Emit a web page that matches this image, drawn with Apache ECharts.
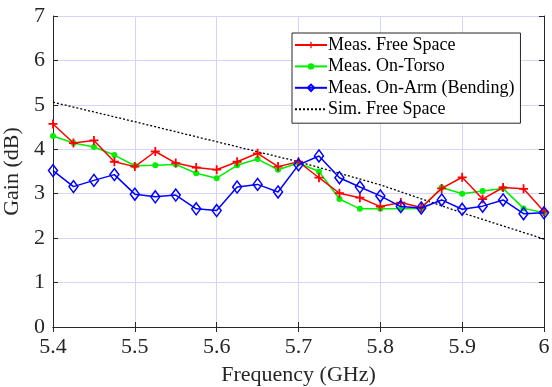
<!DOCTYPE html>
<html>
<head>
<meta charset="utf-8">
<script src="https://cdn.jsdelivr.net/npm/echarts@6/dist/echarts.min.js"></script>
<style>
  html, body { margin: 0; padding: 0; background: #fff; }
  #chart { width: 552px; height: 387px; }
</style>
</head>
<body>
<div id="chart"></div>
<script>
// Measured gain versus frequency (GHz)
const freq = [5.4, 5.425, 5.45, 5.475, 5.5, 5.525, 5.55, 5.575, 5.6, 5.625, 5.65, 5.675,
              5.7, 5.725, 5.75, 5.775, 5.8, 5.825, 5.85, 5.875, 5.9, 5.925, 5.95, 5.975, 6.0];
const measFreeSpace = [4.57, 4.14, 4.20, 3.72, 3.61, 3.95, 3.69, 3.59, 3.54, 3.72, 3.91, 3.61,
                       3.72, 3.36, 3.01, 2.91, 2.71, 2.80, 2.69, 3.12, 3.37, 2.88, 3.14, 3.11, 2.60];
const measOnTorso = [4.30, 4.14, 4.05, 3.87, 3.63, 3.64, 3.66, 3.46, 3.35, 3.64, 3.78, 3.54,
                     3.69, 3.50, 2.88, 2.66, 2.66, 2.66, 2.67, 3.14, 3.00, 3.06, 3.12, 2.67, 2.57];
const measOnArm = [3.52, 3.16, 3.30, 3.43, 2.99, 2.93, 2.97, 2.66, 2.62, 3.15, 3.21, 3.04,
                   3.65, 3.85, 3.36, 3.15, 2.95, 2.71, 2.68, 2.86, 2.65, 2.72, 2.86, 2.55, 2.57];
// Simulated free-space gain
const simFreq = [5.4, 5.5, 5.6, 5.7, 5.8, 5.9, 6.0];
const simFreeSpace = [5.06, 4.62, 4.17, 3.72, 3.20, 2.57, 1.98];

const seriesNames = ['Meas. Free Space', 'Meas. On-Torso', 'Meas. On-Arm (Bending)', 'Sim. Free Space'];

const pairs = (xs, ys) => xs.map((x, i) => [x, ys[i]]);
const FONT = '"Liberation Serif", "Times New Roman", serif';
const plusPath = 'path://M4,0h2v4h4v2h-4v4h-2v-4h-4v-2h4z';

const chart = echarts.init(document.getElementById('chart'), null, { renderer: 'canvas' });

const axisCommon = {
  axisLine: { show: true, lineStyle: { color: '#262626', width: 1 } },
  axisTick: { show: true, inside: true, length: 5, lineStyle: { color: '#262626' } },
};

chart.setOption({
  animation: false,
  backgroundColor: '#ffffff',
  grid: { left: 53, right: 8, top: 16, bottom: 60, containLabel: false, outerBoundsMode: 'none' },
  legend: {
    orient: 'vertical',
    left: 292,
    top: 33,
    padding: [3, 6, 5, 2],
    itemGap: 3.4,
    itemWidth: 32,
    itemHeight: 8,
    backgroundColor: '#ffffff',
    borderColor: '#262626',
    borderWidth: 1,
    borderRadius: 0,
    textStyle: { fontFamily: FONT, fontSize: 18, color: '#000', padding: [0, 0, 0, -4] },
    data: [
      seriesNames[0],
      seriesNames[1],
      seriesNames[2],
      { name: seriesNames[3], itemStyle: { opacity: 0 } }
    ]
  },
  xAxis: [
    Object.assign({
      type: 'value', min: 5.4, max: 6.0, interval: 0.1, position: 'bottom',
      name: 'Frequency (GHz)', nameLocation: 'middle', nameGap: 37,
      nameTextStyle: { fontFamily: FONT, fontSize: 22, color: '#262626' },
      axisLabel: { fontFamily: FONT, fontSize: 22, color: '#262626', margin: 9,
                   formatter: v => String(+v.toFixed(1)) },
      splitLine: { show: true, lineStyle: { color: '#d4d4ff', width: 1 } }
    }, axisCommon),
    Object.assign({
      type: 'value', min: 5.4, max: 6.0, interval: 0.1, position: 'top',
      axisLabel: { show: false }, splitLine: { show: false }
    }, axisCommon)
  ],
  yAxis: [
    Object.assign({
      type: 'value', min: 0, max: 7, interval: 1, position: 'left',
      name: 'Gain (dB)', nameLocation: 'middle', nameGap: 17, nameRotate: 90,
      nameTextStyle: { fontFamily: FONT, fontSize: 22, color: '#262626' },
      axisLabel: { fontFamily: FONT, fontSize: 22, color: '#262626', margin: 8 },
      splitLine: { show: true, lineStyle: { color: '#d4d4ff', width: 1 } }
    }, axisCommon),
    Object.assign({
      type: 'value', min: 0, max: 7, interval: 1, position: 'right',
      axisLabel: { show: false }, splitLine: { show: false }
    }, axisCommon)
  ],
  series: [
    {
      name: seriesNames[0], type: 'line', data: pairs(freq, measFreeSpace),
      color: '#ff0000',
      lineStyle: { width: 1.5, color: '#ff0000' },
      symbol: plusPath, symbolSize: 9, showAllSymbol: true,
      itemStyle: { color: '#ff0000' }, z: 3
    },
    {
      name: seriesNames[1], type: 'line', data: pairs(freq, measOnTorso),
      color: '#00ff00',
      lineStyle: { width: 1.5, color: '#00ee00' },
      symbol: 'circle', symbolSize: 6, showAllSymbol: true,
      itemStyle: { color: '#00ee00' }, z: 2
    },
    {
      name: seriesNames[2], type: 'line', data: pairs(freq, measOnArm),
      color: '#0000ff',
      lineStyle: { width: 1.5, color: '#0000ff' },
      symbol: 'diamond', symbolSize: [9, 12], showAllSymbol: true,
      itemStyle: { color: 'rgba(255,255,255,0)', borderColor: '#0000ff', borderWidth: 1.5 }, z: 4
    },
    {
      name: seriesNames[3], type: 'line', data: pairs(simFreq, simFreeSpace),
      color: '#000000',
      lineStyle: { width: 1.3, color: '#000000', type: [2, 2] },
      symbol: 'none', z: 1
    }
  ]
});
</script>
</body>
</html>
